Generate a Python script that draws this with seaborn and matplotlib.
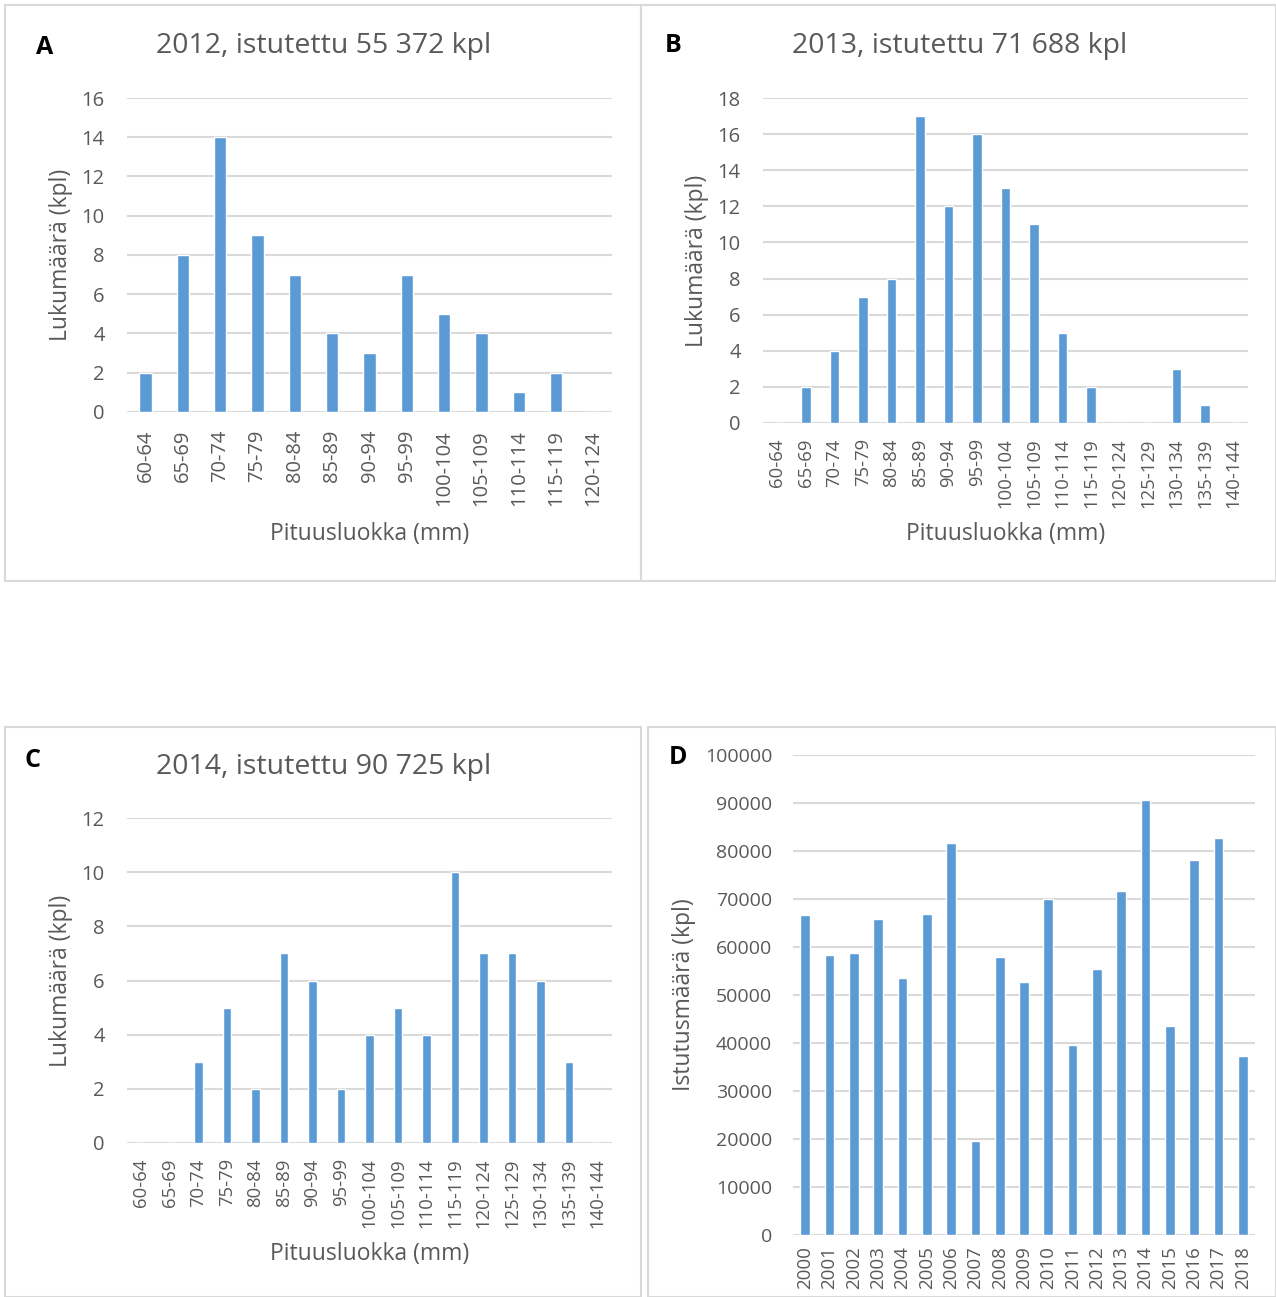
import numpy as np
import pandas as pd
import seaborn as sns
import matplotlib.pyplot as plt
from matplotlib.patches import Rectangle

# length classes (mm)
classes_a = ["60-64", "65-69", "70-74", "75-79", "80-84", "85-89", "90-94",
             "95-99", "100-104", "105-109", "110-114", "115-119", "120-124"]
counts_a = [2, 8, 14, 9, 7, 4, 3, 7, 5, 4, 1, 2, 0]

classes_bc = classes_a + ["125-129", "130-134", "135-139", "140-144"]
counts_b = [0, 2, 4, 7, 8, 17, 12, 16, 13, 11, 5, 2, 0, 0, 3, 1, 0]
counts_c = [0, 0, 3, 5, 2, 7, 6, 2, 4, 5, 4, 10, 7, 7, 6, 3, 0]

years = [str(y) for y in range(2000, 2019)]
planted = [66700, 58400, 58800, 65800, 53500, 66900, 81600, 19500, 58000, 52800,
           70000, 39600, 55372, 71688, 90725, 43600, 78100, 82800, 37300]

titles = ["2012, istutettu 55 372 kpl", "2013, istutettu 71 688 kpl",
          "2014, istutettu 90 725 kpl"]

sns.set_style("white")
plt.rcParams["font.family"] = ["Open Sans", "DejaVu Sans"]

BLUE = "#5B9BD5"
GRID = "#d9d9d9"
TXT = "#595959"

W, H = 1276, 1297
fig = plt.figure(figsize=(W / 100, H / 100), dpi=100)


def px(x0, y0, x1, y1):
    return [x0 / W, 1 - y1 / H, (x1 - x0) / W, (y1 - y0) / H]


def frame(x0, y0, x1, y1):
    fig.add_artist(Rectangle((x0 / W, 1 - y1 / H), (x1 - x0) / W, (y1 - y0) / H,
                             transform=fig.transFigure, fill=False,
                             edgecolor=GRID, linewidth=1.5))


def style(ax, yticks, ylabel, xlabel, xlab_y=None, ysize=14.5, xsize=14.5, xpad=13):
    ax.set_ylim(yticks[0], yticks[-1])
    ax.set_yticks(yticks)
    ax.yaxis.grid(True, color=GRID, linewidth=1.5)
    ax.set_axisbelow(True)
    for s in ax.spines.values():
        s.set_visible(False)
    ax.tick_params(axis="y", length=0, pad=16, labelsize=ysize, labelcolor=TXT)
    ax.tick_params(axis="x", length=0, pad=xpad, labelsize=xsize, labelcolor=TXT,
                   labelrotation=90)
    ax.set_ylabel(ylabel, fontsize=16.5, color=TXT, labelpad=6)
    ax.set_xlabel(xlabel, fontsize=16.5, color=TXT, va="center")
    if xlab_y is not None:
        ax.xaxis.set_label_coords(0.5, xlab_y)


frame(5, 5, 641, 581)
frame(641, 5, 1276, 581)
frame(5, 727, 641, 1297)
frame(648, 727, 1276, 1297)

ax_a = fig.add_axes(px(127, 98, 612, 412))
sns.barplot(x=classes_a, y=counts_a, ax=ax_a, color=BLUE, saturation=1, width=0.33)
style(ax_a, np.arange(0, 17, 2), "Lukumäärä (kpl)", "Pituusluokka (mm)", -0.3885)

ax_b = fig.add_axes(px(763, 98, 1248, 423))
sns.barplot(x=classes_bc, y=counts_b, ax=ax_b, color=BLUE, saturation=1, width=0.33)
style(ax_b, np.arange(0, 19, 2), "Lukumäärä (kpl)", "Pituusluokka (mm)", -0.3415,
      xsize=13.3, xpad=11)

ax_c = fig.add_axes(px(127, 818, 612, 1143))
sns.barplot(x=classes_bc, y=counts_c, ax=ax_c, color=BLUE, saturation=1, width=0.3)
style(ax_c, np.arange(0, 13, 2), "Lukumäärä (kpl)", "Pituusluokka (mm)", -0.3415,
      xsize=13.3, xpad=11)

ax_d = fig.add_axes(px(793, 755, 1255, 1235))
sns.barplot(x=years, y=planted, ax=ax_d, color=BLUE, saturation=1, width=0.4)
style(ax_d, np.arange(0, 100001, 10000), "Istutusmäärä (kpl)", "", ysize=14, xsize=13.5,
      xpad=8)
ax_d.tick_params(axis="y", pad=15)

# titles and panel letters
fig.text(324 / W, 1 - 46 / H, titles[0], ha="center", va="center", fontsize=20.5, color=TXT)
fig.text(960 / W, 1 - 46 / H, titles[1], ha="center", va="center", fontsize=20.5, color=TXT)
fig.text(324 / W, 1 - 767 / H, titles[2], ha="center", va="center", fontsize=20.5, color=TXT)
for letter, x, y in [("A", 45, 47), ("B", 673, 45), ("C", 33, 761), ("D", 678, 758)]:
    fig.text(x / W, 1 - y / H, letter, ha="center", va="center", fontsize=18,
             fontweight="bold", color="black")

fig.savefig("out.png", dpi=100, facecolor="white")
